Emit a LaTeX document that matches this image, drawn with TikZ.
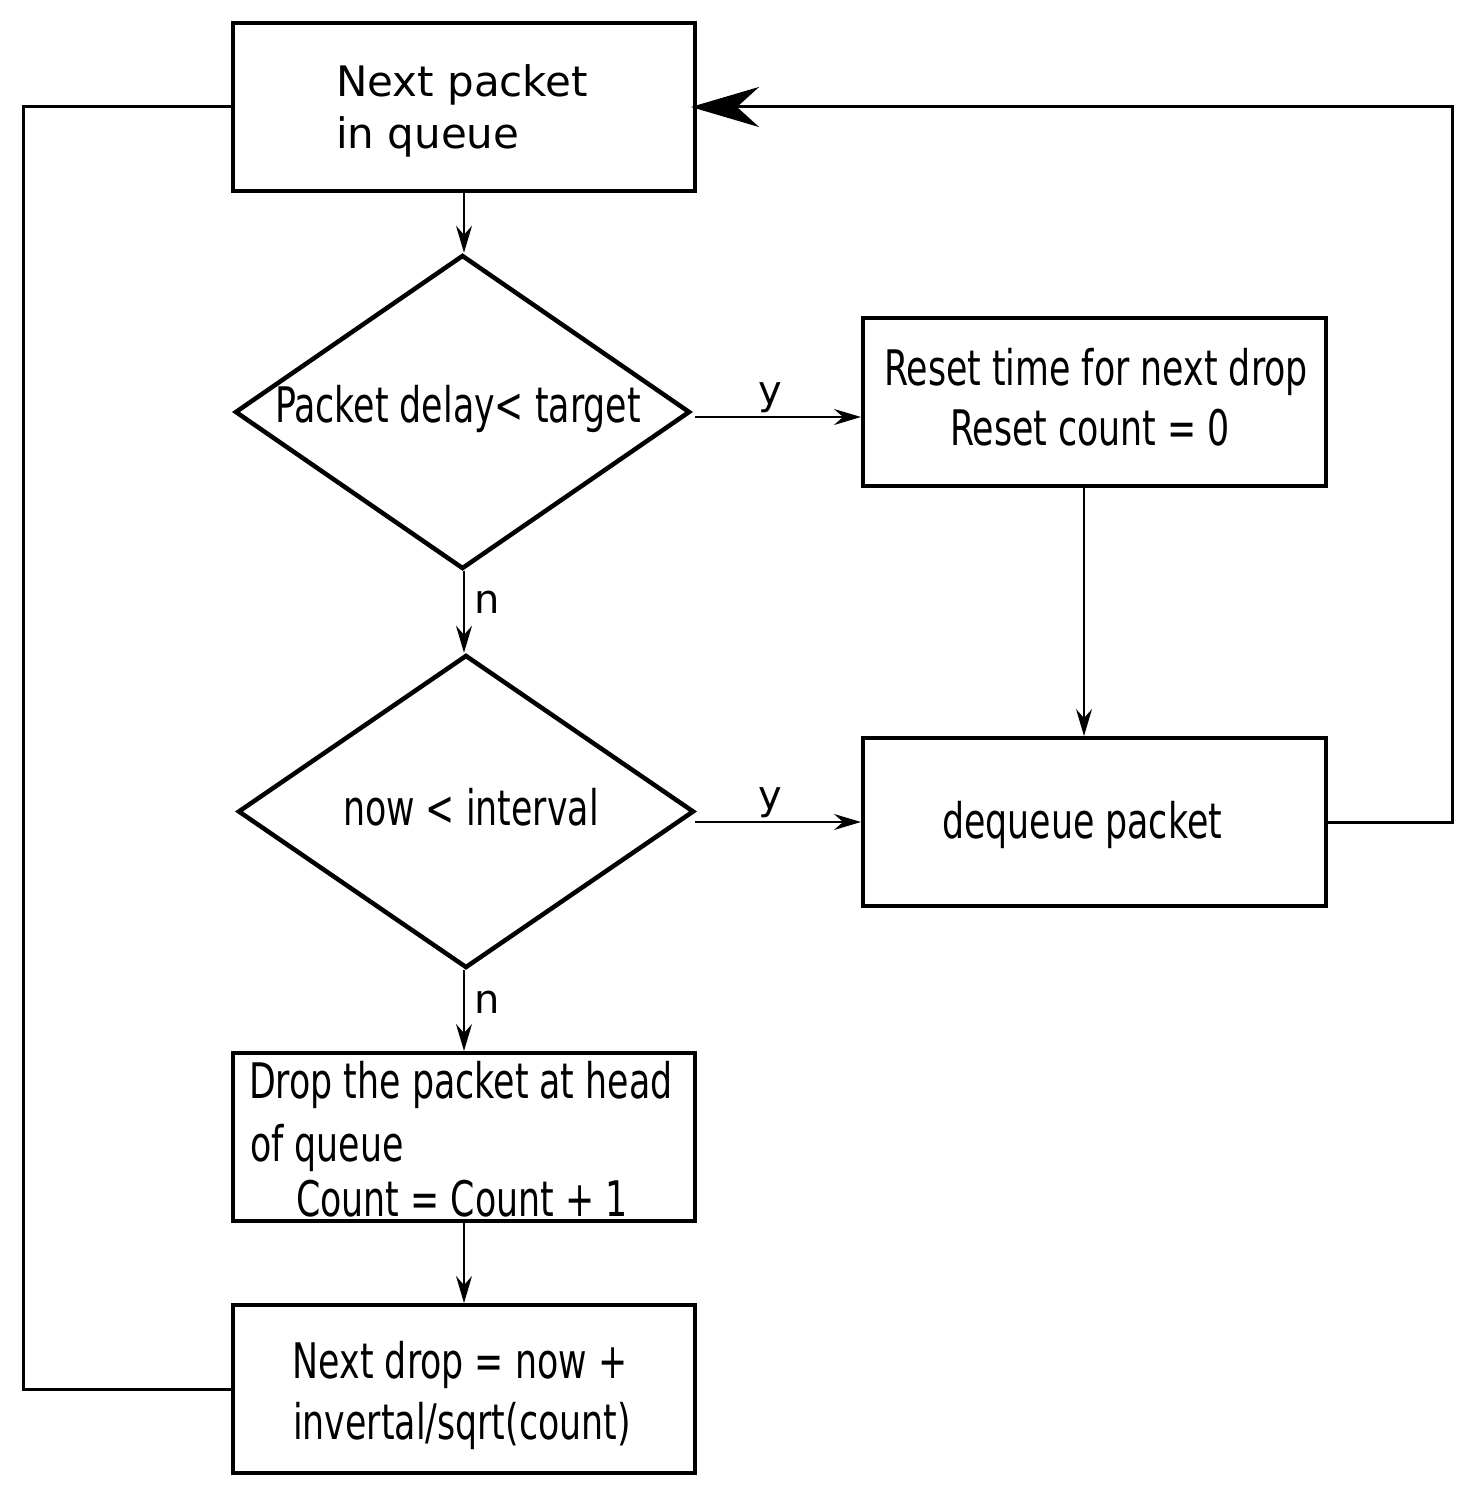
\documentclass[tikz,border=0pt]{standalone}
\usepackage{fontspec}
\setmainfont{DejaVu Sans}
\newfontfamily\condfont[FakeStretch=0.71]{DejaVu Sans}
\usetikzlibrary{arrows.meta,shapes.geometric}
\tikzset{
  boxnode/.style={draw,line width=4pt,minimum width=462pt,minimum height=168pt,inner sep=0pt},
  decnode/.style={draw,diamond,line width=4.5pt,minimum width=455pt,minimum height=314pt,inner sep=0pt},
  arr/.style={line width=1.8pt,-{Stealth[length=27pt,width=16pt,inset=9pt]}},
  loopline/.style={line width=3pt},
  bigarr/.style={line width=3pt,-{Stealth[length=68pt,width=40pt,inset=22pt]}},
  condtxt/.style={inner sep=0pt,font=\condfont\fontsize{49}{58}\selectfont},
  regtxt/.style={inner sep=0pt,font=\fontsize{42}{50}\selectfont},
  lbltxt/.style={inner sep=0pt,font=\fontsize{40}{48}\selectfont}
}
\begin{document}
\begin{tikzpicture}[x=1pt,y=-1pt]
\useasboundingbox (0,0) rectangle (1477,1501);
% boxes
\node[boxnode] (b1) at (464,107) {};
\node[decnode] (d1) at (462.5,412) {};
\node[boxnode,minimum width=463pt] (b2) at (1094.5,402) {};
\node[decnode,minimum width=456pt,minimum height=313pt] (d2) at (466,811.5) {};
\node[boxnode,minimum width=463pt] (b3) at (1094.5,822) {};
\node[boxnode] (b4) at (464,1137) {};
\node[boxnode] (b5) at (464,1389) {};
% texts
\node[regtxt,anchor=base west] (t1a) at (336,97) {Next packet};
\node[regtxt,anchor=base west] (t1b) at (336,149) {in queue};
\node[condtxt,anchor=base] (td1) at (458,422) {Packet delay< target};
\node[condtxt,anchor=base] (t2a) at (1096,385) {Reset time for next drop};
\node[condtxt,anchor=base] (t2b) at (1090,445) {Reset count = 0};
\node[condtxt,anchor=base] (td2) at (471,825) {now < interval};
\node[condtxt,anchor=base] (t3) at (1082,838) {dequeue packet};
\node[condtxt,anchor=base west] (t4a) at (249,1098) {Drop the packet at head};
\node[condtxt,anchor=base west] (t4b) at (250,1161) {of queue};
\node[condtxt,anchor=base west] (t4c) at (296,1216) {Count = Count + 1};
\node[condtxt,anchor=base] (t5a) at (460,1378) {Next drop = now +};
\node[condtxt,anchor=base] (t5b) at (462,1439) {invertal/sqrt(count)};
% labels
\node[lbltxt,anchor=base] (y1) at (770,404) {y};
\node[lbltxt,anchor=base] (y2) at (770,809) {y};
\node[lbltxt,anchor=base] (n1) at (487,613) {n};
\node[lbltxt,anchor=base] (n2) at (487,1013) {n};
% helper coordinates
\coordinate (c1) at (695,417);
\coordinate (c2) at (695,822);
\coordinate (rtop) at (1452,107);
\coordinate (rbot) at (1452,822);
\coordinate (ltop) at (23,107);
\coordinate (lbot) at (23,1389);
% connectors
\draw[arr] (b1.south) -- (d1.north -| b1.south);
\draw[arr] (c1) -- (c1 -| b2.west);
\draw[arr] ([xshift=-10.5pt]b2.south) -- ([xshift=-10.5pt]b3.north);
\draw[arr] (d1.south -| b1.south) -- (d2.north -| b1.south);
\draw[arr] (c2) -- (c2 -| b3.west);
\draw[arr] (d2.south -| b1.south) -- (b4.north);
\draw[arr] (b4.south) -- (b5.north);
\draw[bigarr] (b3.east) -- (rbot) -- (rtop) -- ([xshift=-6pt]b1.east);
\draw[loopline] (b5.west) -- (lbot) -- (ltop) -- (b1.west);
\end{tikzpicture}
\end{document}
